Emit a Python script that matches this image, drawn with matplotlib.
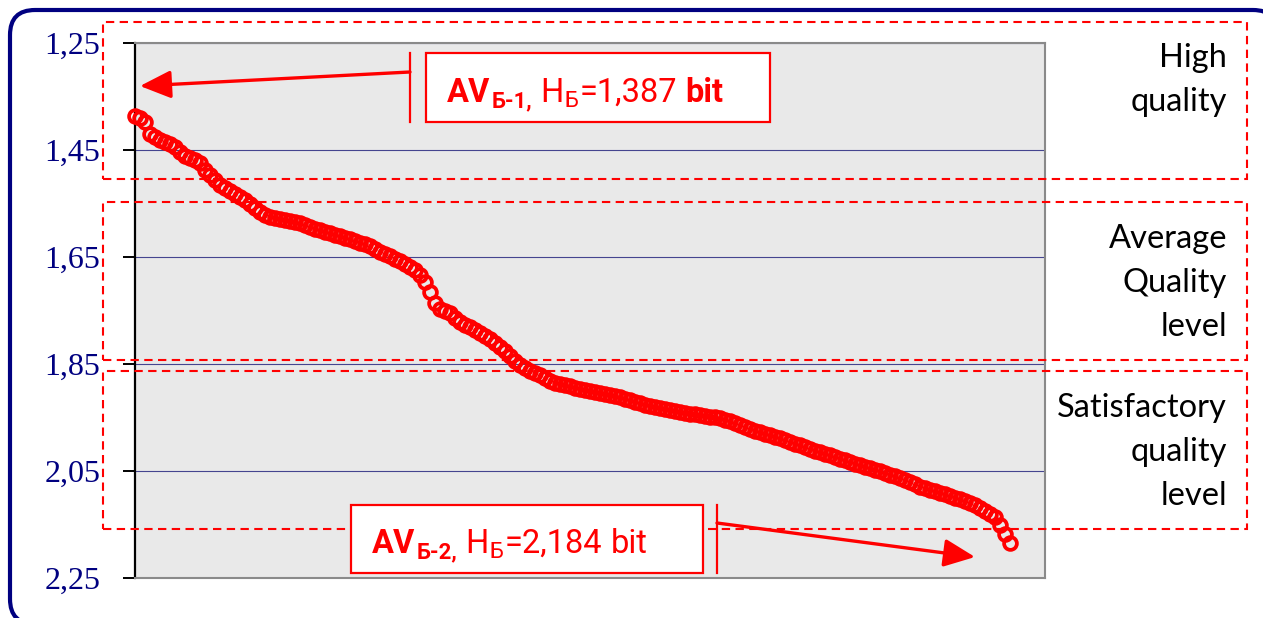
import matplotlib
matplotlib.use('Agg')
import matplotlib.pyplot as plt
from matplotlib.patches import Rectangle, FancyBboxPatch, FancyArrowPatch
from matplotlib.lines import Line2D
from matplotlib.transforms import IdentityTransform
import numpy as np

W, H = 1263, 618

y_ticks = [1.25, 1.45, 1.65, 1.85, 2.05, 2.25]
y_tick_labels = ['1,25', '1,45', '1,65', '1,85', '2,05', '2,25']

entropy_values = [
    1.387, 1.390, 1.398, 1.420, 1.426, 1.431, 1.435, 1.439, 1.444, 1.454,
    1.461, 1.465, 1.469, 1.474, 1.487, 1.497, 1.506, 1.515, 1.521, 1.527,
    1.532, 1.538, 1.543, 1.551, 1.558, 1.566, 1.571, 1.575, 1.577, 1.579,
    1.581, 1.583, 1.585, 1.586, 1.590, 1.594, 1.598, 1.600, 1.603, 1.605,
    1.609, 1.611, 1.614, 1.616, 1.620, 1.624, 1.626, 1.629, 1.635, 1.641,
    1.644, 1.648, 1.654, 1.657, 1.663, 1.669, 1.674, 1.684, 1.697, 1.715,
    1.736, 1.747, 1.751, 1.755, 1.764, 1.771, 1.777, 1.781, 1.786, 1.792,
    1.798, 1.803, 1.811, 1.818, 1.826, 1.835, 1.844, 1.852, 1.857, 1.863,
    1.867, 1.871, 1.876, 1.882, 1.886, 1.887, 1.889, 1.891, 1.895, 1.897,
    1.899, 1.900, 1.902, 1.904, 1.906, 1.908, 1.910, 1.912, 1.915, 1.917,
    1.921, 1.923, 1.927, 1.928, 1.930, 1.932, 1.934, 1.936, 1.938, 1.940,
    1.942, 1.943, 1.943, 1.945, 1.947, 1.949, 1.949, 1.951, 1.955, 1.957,
    1.960, 1.964, 1.968, 1.972, 1.975, 1.977, 1.981, 1.983, 1.986, 1.988,
    1.992, 1.996, 2.000, 2.001, 2.005, 2.009, 2.013, 2.014, 2.018, 2.020,
    2.024, 2.028, 2.029, 2.033, 2.037, 2.039, 2.043, 2.044, 2.048, 2.050,
    2.054, 2.057, 2.059, 2.063, 2.067, 2.071, 2.074, 2.080, 2.082, 2.086,
    2.087, 2.091, 2.093, 2.097, 2.100, 2.102, 2.106, 2.110, 2.114, 2.119,
    2.125, 2.130, 2.136, 2.150, 2.167, 2.184,
]

zone_labels = ['High\nquality', 'Average\nQuality\nlevel', 'Satisfactory\nquality\nlevel']
# (text, weight, is_subscript, gap_before_px)
best_label = [('AV', 'bold', False, 0), ('Б-1,', 'bold', True, 0), ('H', 'normal', False, 7),
              ('Б', 'normal', True, 0), ('=1,387', 'normal', False, 0), ('bit', 'bold', False, 8)]
worst_label = [('AV', 'bold', False, 0), ('Б-2,', 'bold', True, 0), ('H', 'normal', False, 7),
               ('Б', 'normal', True, 0), ('=2,184', 'normal', False, 0), ('bit', 'normal', False, 8)]

RED = '#ff0000'
NAVY = '#000080'

fig = plt.figure(figsize=(W / 100, H / 100), dpi=100)
fig.patch.set_facecolor('white')
ID = IdentityTransform()


def disp(x, y):
    return x, H - y


# outer rounded frame
frame = FancyBboxPatch((10, H - 624), 1268, 614,
                       boxstyle='round,pad=0,rounding_size=25',
                       transform=ID, fc='white', ec=NAVY, lw=3.0, zorder=0)
fig.patches.append(frame)

# axes
ax = fig.add_axes([135 / W, (H - 578) / H, (1045 - 135) / W, (578 - 43) / H])
ax.set_facecolor('#e9e9e9')
ax.set_zorder(1)
idx = np.arange(len(entropy_values))
ax.plot(idx, entropy_values, linestyle='none', marker='o', ms=9.2,
        mec=RED, mfc='none', mew=2.7, clip_on=False, zorder=5)
ax.set_xlim(0, 182)
ax.set_ylim(2.25, 1.25)
ax.set_yticks(y_ticks)
ax.set_yticklabels(y_tick_labels, family='Liberation Serif', fontsize=23, color=NAVY)
ax.set_xticks([])
ax.tick_params(axis='y', direction='out', length=9, width=1.4, color='black', pad=16)
ax.yaxis.grid(True, color='#45458f', lw=0.8)
ax.set_axisbelow(True)
for s in ['top', 'right', 'bottom']:
    ax.spines[s].set_color('#8a8a8a')
    ax.spines[s].set_linewidth(1.5)
ax.spines['left'].set_color('black')
ax.spines['left'].set_linewidth(1.6)

# dashed zone boxes
zones = [(103, 22, 1247, 179), (103, 202, 1247, 360), (103, 371, 1247, 529)]
for (x0, y0, x1, y1) in zones:
    r = Rectangle((x0, H - y1), x1 - x0, y1 - y0, transform=ID, fill=False,
                  ec=RED, lw=1.5, ls=(0, (4, 2.6)), zorder=6)
    fig.patches.append(r)

# zone labels
zone_centers = [80, 283, 452]
for lab, yc in zip(zone_labels, zone_centers):
    fig.text(1227, H - yc, lab, transform=ID, ha='right', va='center',
             multialignment='right', family='Lato', fontsize=23.5, linespacing=1.6,
             color='black', zorder=7)

# annotation boxes
for (x0, y0, x1, y1) in [(426, 53, 770, 122), (351, 505, 703, 573)]:
    r = Rectangle((x0, H - y1), x1 - x0, y1 - y0, transform=ID, fc='white',
                  ec=RED, lw=1.6, zorder=8)
    fig.patches.append(r)

for (x, y0, y1) in [(410, 53, 122), (717, 505, 573)]:
    fig.lines.append(Line2D([x, x], [H - y0, H - y1], transform=ID, color=RED, lw=1.6, zorder=8))

for (xa, ya, xb, yb) in [(410, 72, 140, 86), (717, 523, 975, 557)]:
    arr = FancyArrowPatch(disp(xa, ya), disp(xb, yb), transform=ID,
                          arrowstyle='-|>,head_length=1.0,head_width=0.45',
                          mutation_scale=19, color=RED, lw=2.4, shrinkA=0, shrinkB=0, zorder=8)
    fig.patches.append(arr)

renderer = fig.canvas.get_renderer()


def rich_text(x, y, pieces, fontsize):
    cx = x
    for s, weight, sub, gap in pieces:
        cx += gap
        size = fontsize * 0.68 if sub else fontsize
        dy = 5 if sub else 0
        t = fig.text(cx, H - (y + dy), s, transform=ID, fontsize=size, fontweight=weight,
                     family='Roboto', color=RED, ha='left', va='baseline', zorder=9)
        cx += t.get_window_extent(renderer).width + 1


rich_text(447, 102, best_label, 23.5)
rich_text(372, 553, worst_label, 23.5)

fig.savefig('out.png', dpi=100)
